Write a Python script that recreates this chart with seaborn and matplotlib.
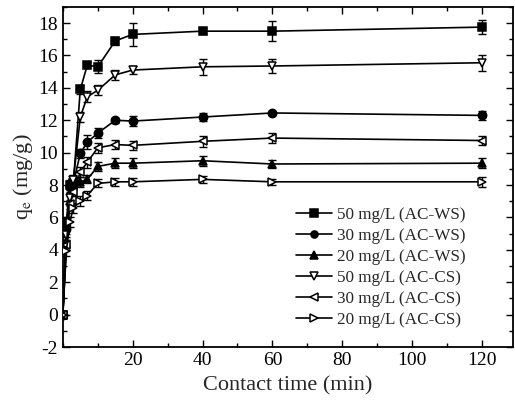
import matplotlib
matplotlib.use("Agg")
import matplotlib.pyplot as plt
from matplotlib.ticker import MultipleLocator
import seaborn as sns
import pandas as pd

# Contact times (min)
time = [0, 1, 2, 3, 5, 7, 10, 15, 20, 40, 60, 120]

# Adsorption capacity q_e (mg/g)
ws50 = [0, 5.7, 8.0, 8.1, 13.9, 15.4, 15.3, 16.9, 17.3, 17.5, 17.5, 17.75]
ws30 = [0, 5.3, 7.9, 8.1, 9.95, 10.65, 11.2, 12.0, 11.95, 12.2, 12.45, 12.3]
ws20 = [0, 4.5, 7.0, 8.0, 8.2, 8.35, 9.15, 9.35, 9.35, 9.5, 9.3, 9.35]
cs50 = [0, 4.9, 7.2, 8.3, 12.2, 13.45, 13.85, 14.8, 15.1, 15.3, 15.35, 15.55]
cs30 = [0, 4.3, 6.8, 7.6, 8.8, 9.4, 10.3, 10.5, 10.45, 10.7, 10.9, 10.75]
cs20 = [0, 3.9, 5.7, 6.6, 7.0, 7.35, 8.1, 8.2, 8.2, 8.35, 8.2, 8.2]

# Standard deviations
ws50_err = [0, 0.3, 0.3, 0.3, 0.3, 0.2, 0.4, 0.25, 0.7, 0.2, 0.6, 0.45]
ws30_err = [0, 0.3, 0.3, 0.3, 0.3, 0.45, 0.3, 0.15, 0.3, 0.25, 0.15, 0.3]
ws20_err = [0, 0.3, 0.3, 0.3, 0.3, 0.25, 0.3, 0.3, 0.3, 0.3, 0.25, 0.3]
cs50_err = [0, 0.3, 0.3, 0.3, 0.3, 0.35, 0.3, 0.3, 0.25, 0.5, 0.45, 0.5]
cs30_err = [0, 0.3, 0.3, 0.3, 0.3, 0.35, 0.3, 0.3, 0.3, 0.35, 0.3, 0.3]
cs20_err = [0, 0.3, 0.3, 0.3, 0.3, 0.3, 0.25, 0.25, 0.25, 0.2, 0.2, 0.3]

labels = ["50 mg/L (AC-WS)", "30 mg/L (AC-WS)", "20 mg/L (AC-WS)",
          "50 mg/L (AC-CS)", "30 mg/L (AC-CS)", "20 mg/L (AC-CS)"]
series = [ws50, ws30, ws20, cs50, cs30, cs20]
errors = [ws50_err, ws30_err, ws20_err, cs50_err, cs30_err, cs20_err]
markers = ["s", "o", "^", "v", "<", ">"]
filled = [True, True, True, False, False, False]

sns.set_style("ticks")
plt.rcParams["font.family"] = ["Liberation Serif", "DejaVu Serif"]
plt.rcParams["mathtext.fontset"] = "stix"
plt.rcParams["axes.unicode_minus"] = False

fig = plt.figure(figsize=(5.15, 4.04), dpi=100)
ax = fig.add_axes([0.122, 0.141, 0.875, 0.842])

for lab, vals, err, mk, fill in zip(labels, series, errors, markers, filled):
    df = pd.DataFrame({"t": time, "q": vals})
    ax.errorbar(time, vals, yerr=err, fmt="none", ecolor="black",
                elinewidth=1.0, capsize=3, capthick=1.0, zorder=2)
    sns.lineplot(data=df, x="t", y="q", ax=ax, color="black", linewidth=1.2,
                 marker=mk, markersize=6,
                 markerfacecolor="black" if fill else "white",
                 markeredgecolor="black", markeredgewidth=1.1,
                 label=lab, zorder=3)

ax.set_xlim(0, 129)
ax.set_ylim(-2, 19)
ax.xaxis.set_minor_locator(MultipleLocator(10))
ax.yaxis.set_major_locator(MultipleLocator(2))
ax.yaxis.set_minor_locator(MultipleLocator(1))
ax.set_xticks([20, 40, 60, 80, 100, 120])
ax.tick_params(which="both", direction="in", top=True, right=True,
               labelsize=14, width=1.0, colors="black")
ax.tick_params(which="major", length=5)
ax.tick_params(which="minor", length=3)
for sp in ax.spines.values():
    sp.set_linewidth(1.3)
    sp.set_color("black")

ax.set_xlabel("Contact time (min)", fontsize=16, labelpad=5)
ax.set_ylabel(r"q$_\mathrm{e}$ (mg/g)", fontsize=16, labelpad=2)

leg = ax.legend(loc="lower right", bbox_to_anchor=(0.909, 0.035), frameon=False,
                fontsize=12.3, handlelength=2.1, handletextpad=0.3,
                labelspacing=0.3, borderaxespad=0, markerscale=0.85)

fig.savefig("out.png", dpi=100)
